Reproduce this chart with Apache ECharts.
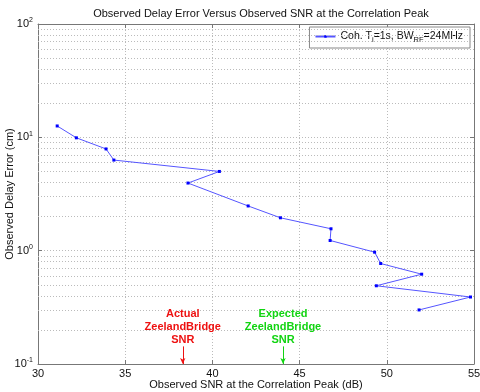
<!DOCTYPE html>
<html>
<head>
<meta charset="utf-8">
<script src="https://cdn.jsdelivr.net/npm/echarts@6/dist/echarts.min.js"></script>
<style>
  html, body { margin: 0; padding: 0; background: #fff; }
  #chart { width: 480px; height: 392px; }
</style>
</head>
<body>
<div id="chart"></div>
<script>
// observed SNR (dB) and delay error (cm), in plotting order
const snr = [31.1, 32.2, 33.9, 34.35, 40.4, 38.6, 42.05, 43.9, 46.8, 46.75, 49.3, 49.65, 52.0, 49.4, 54.8, 51.85];
const delayErr = [12.6, 9.9, 7.9, 6.3, 5.0, 3.95, 2.48, 1.95, 1.56, 1.23, 0.97, 0.77, 0.62, 0.49, 0.39, 0.30];

// minor log grid lines
const minorY = [0.2, 0.3, 0.4, 0.5, 0.6, 0.7, 0.8, 0.9, 2, 3, 4, 5, 6, 7, 8, 9, 20, 30, 40, 50, 60, 70, 80, 90];

// annotations: x position, arrow top, label, colour
const noteX = [38.3, 44.05];
const noteTop = [0.143, 0.143];
const noteText = ['Actual\nZeelandBridge\nSNR', 'Expected\nZeelandBridge\nSNR'];
const noteColor = ['#ee1111', '#11d411'];

const chart = echarts.init(document.getElementById('chart'));
const font = 'Liberation Sans, Arial, sans-serif';
const frame = '#777';
const gridDot = { color: '#bbb', type: [1, 2], width: 1 };

const supLabel = v => {
  const e = Math.round(Math.log10(v));
  return '{b|10}{s|' + e + '}';
};

const option = {
  animation: false,
  textStyle: { fontFamily: font },
  title: {
    text: 'Observed Delay Error Versus Observed SNR at the Correlation Peak',
    left: 256,
    textAlign: 'center',
    top: 3,
    textStyle: { fontSize: 11, fontWeight: 'normal', color: '#111', fontFamily: font }
  },
  legend: {
    data: ['main'],
    right: 10,
    top: 27,
    backgroundColor: '#fff',
    borderColor: '#888',
    borderWidth: 1,
    borderRadius: 0,
    padding: [4, 7, 4, 5],
    itemWidth: 20,
    itemHeight: 3,
    itemGap: 6,
    formatter: () => 'Coh. T{sub|i}=1s, BW{sub|RF}=24MHz',
    textStyle: {
      fontSize: 10.5,
      color: '#111',
      fontFamily: font,
      rich: {
        sub: { fontSize: 7.5, padding: [7, 0, 0, 0], fontFamily: font, color: '#111' }
      }
    }
  },
  grid: { left: 38, right: 6, top: 24, bottom: 28, outerBoundsMode: 'none', containLabel: false },
  xAxis: [
    {
      type: 'value',
      min: 30, max: 55, interval: 5,
      name: 'Observed SNR at the Correlation Peak (dB)',
      nameLocation: 'middle',
      nameGap: 15,
      nameMoveOverlap: false,
      nameTextStyle: { fontSize: 11, color: '#111', fontFamily: font },
      axisLine: { lineStyle: { color: frame } },
      axisTick: { inside: true, length: 4, lineStyle: { color: frame } },
      axisLabel: { fontSize: 11, color: '#111', margin: 4, fontFamily: font },
      splitLine: { show: true, lineStyle: gridDot }
    },
    {
      type: 'value', position: 'top',
      min: 30, max: 55, interval: 5,
      axisLine: { show: true, lineStyle: { color: frame } },
      axisTick: { inside: true, length: 4, lineStyle: { color: frame } },
      axisLabel: { show: false },
      splitLine: { show: false }
    }
  ],
  yAxis: [
    {
      type: 'log', logBase: 10,
      min: 0.1, max: 100,
      name: 'Observed Delay Error (cm)',
      nameLocation: 'middle',
      nameGap: 23,
      nameMoveOverlap: false,
      nameTextStyle: { fontSize: 11, color: '#111', fontFamily: font },
      axisLine: { show: true, lineStyle: { color: frame } },
      axisTick: { inside: true, length: 4, lineStyle: { color: frame } },
      axisLabel: {
        fontSize: 11, color: '#111', margin: 5,
        formatter: supLabel,
        rich: {
          b: { fontSize: 11, color: '#111', fontFamily: font },
          s: { fontSize: 7, color: '#111', padding: [0, 0, 7, 0], fontFamily: font }
        }
      },
      splitLine: { show: true, lineStyle: gridDot }
    },
    {
      type: 'log', logBase: 10, position: 'right',
      min: 0.1, max: 100,
      axisLine: { show: true, lineStyle: { color: frame } },
      axisTick: { inside: true, length: 4, lineStyle: { color: frame } },
      axisLabel: { show: false },
      splitLine: { show: false }
    }
  ],
  series: [
    {
      name: 'main',
      type: 'line',
      data: snr.map((x, i) => [x, delayErr[i]]),
      symbol: 'rect',
      symbolSize: 3,
      lineStyle: { color: '#5555ff', width: 1 },
      itemStyle: { color: '#0000ff' },
      z: 5
    },
    {
      name: 'minorGrid',
      type: 'line',
      data: [],
      silent: true,
      markLine: {
        silent: true,
        symbol: 'none',
        label: { show: false },
        lineStyle: gridDot,
        data: minorY.map(v => ({ yAxis: v }))
      }
    },
    {
      name: 'notes',
      type: 'line',
      data: [],
      silent: true,
      markLine: {
        silent: true,
        symbol: ['none', 'arrow'],
        symbolSize: [4, 6],
        data: noteX.map((x, i) => [
          {
            coord: [x, noteTop[i]],
            lineStyle: { color: noteColor[i], width: 1, type: 'solid' },
            itemStyle: { color: noteColor[i] },
            label: {
              show: true,
              position: 'start',
              formatter: noteText[i],
              color: noteColor[i],
              fontWeight: 'bold',
              fontSize: 11,
              lineHeight: 13,
              fontFamily: font,
              distance: 0
            }
          },
          { coord: [x, 0.1], itemStyle: { color: noteColor[i] } }
        ])
      }
    }
  ]
};

chart.setOption(option);
</script>
</body>
</html>
